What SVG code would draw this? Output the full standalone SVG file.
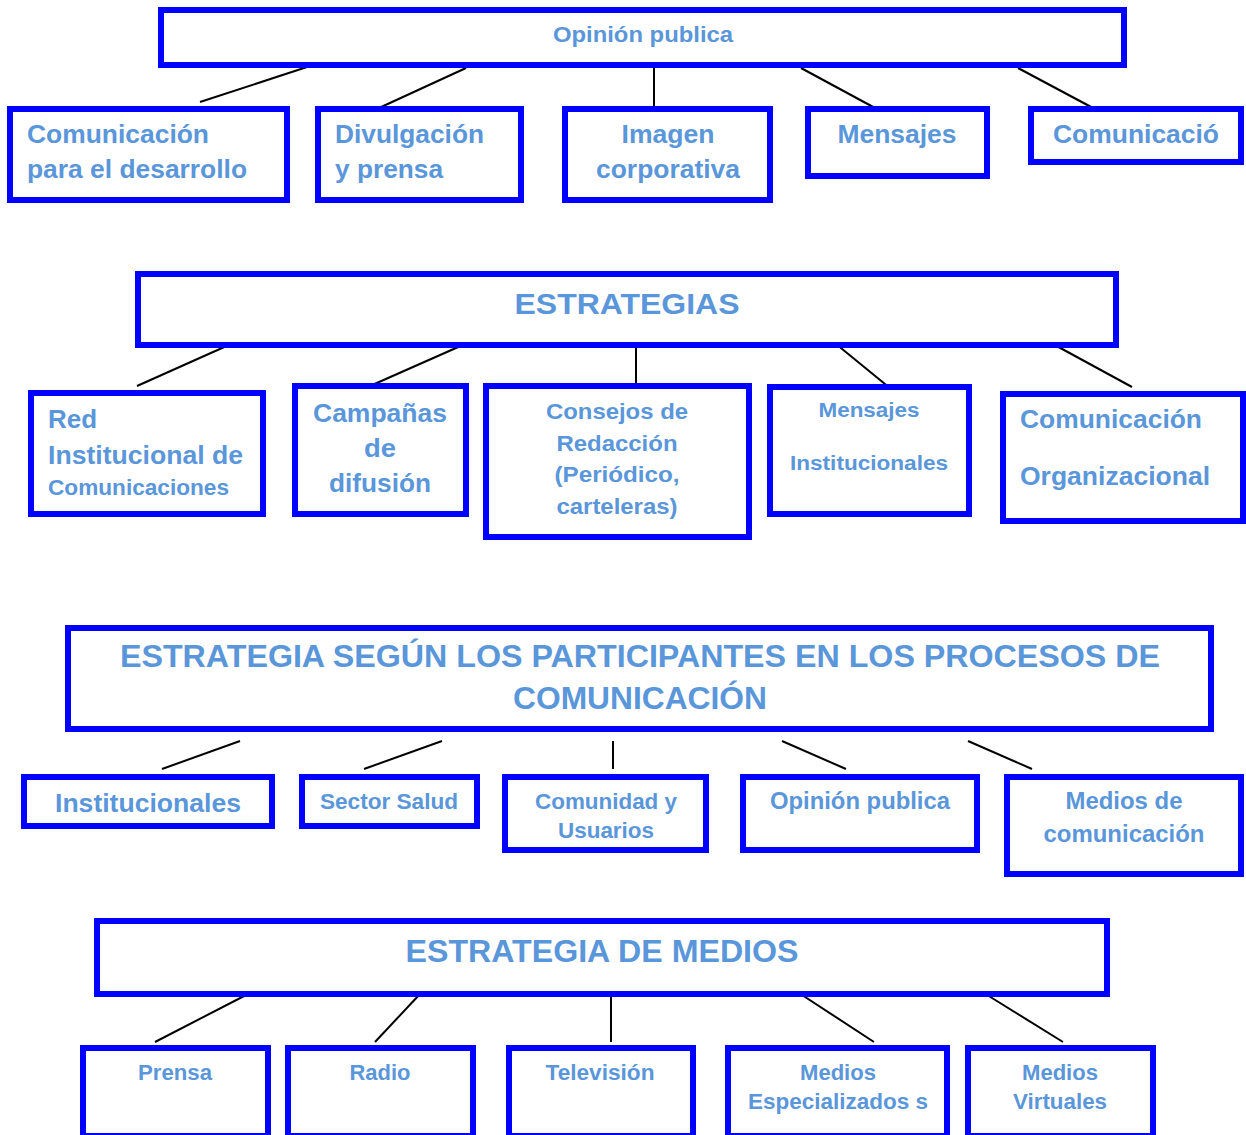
<svg xmlns="http://www.w3.org/2000/svg" width="1246" height="1135" viewBox="0 0 1246 1135">
<style>
.box{fill:#fff;stroke:#0000FF;stroke-width:6}
.t{font-family:"Liberation Sans",Arial,sans-serif;font-weight:bold;fill:#5A96DA}
.m{text-anchor:middle}
.c line{stroke:#000;stroke-width:2}
</style>
<rect width="1246" height="1135" fill="#fff"/>
<g id="connectors" class="c">
<line x1="307" y1="67" x2="200" y2="102"/>
<line x1="466" y1="68" x2="379" y2="108"/>
<line x1="654" y1="68" x2="654" y2="108"/>
<line x1="801" y1="68" x2="875" y2="108"/>
<line x1="1018" y1="68" x2="1093" y2="108"/>
<line x1="231" y1="344" x2="137" y2="386"/>
<line x1="465" y1="344" x2="370" y2="386"/>
<line x1="636" y1="344" x2="636" y2="386"/>
<line x1="836" y1="344" x2="896" y2="393"/>
<line x1="1053" y1="344" x2="1132" y2="387"/>
<line x1="240" y1="741" x2="162" y2="769"/>
<line x1="442" y1="741" x2="364" y2="769"/>
<line x1="613" y1="741" x2="613" y2="769"/>
<line x1="782" y1="741" x2="846" y2="769"/>
<line x1="968" y1="741" x2="1032" y2="769"/>
<line x1="248" y1="994" x2="155" y2="1042"/>
<line x1="420" y1="994" x2="375" y2="1042"/>
<line x1="611" y1="994" x2="611" y2="1042"/>
<line x1="799" y1="993" x2="874" y2="1042"/>
<line x1="984" y1="993" x2="1063" y2="1042"/>
</g>
<g id="opinion-publica-top"><rect class="box" x="161" y="10" width="963" height="55"/><text class="t m" x="643" y="42" font-size="22" textLength="180" lengthAdjust="spacingAndGlyphs">Opinión publica</text></g>
<g id="com-desarrollo"><rect class="box" x="10" y="109" width="277" height="91"/><text class="t" x="27" y="143" font-size="26" textLength="182" lengthAdjust="spacingAndGlyphs">Comunicación</text><text class="t" x="27" y="178" font-size="26" textLength="220" lengthAdjust="spacingAndGlyphs">para el desarrollo</text></g>
<g id="divulgacion"><rect class="box" x="318" y="109" width="203" height="91"/><text class="t" x="335" y="143" font-size="26" textLength="149" lengthAdjust="spacingAndGlyphs">Divulgación</text><text class="t" x="335" y="178" font-size="26" textLength="108" lengthAdjust="spacingAndGlyphs">y prensa</text></g>
<g id="imagen"><rect class="box" x="565" y="109" width="205" height="91"/><text class="t m" x="668" y="143" font-size="26" textLength="93" lengthAdjust="spacingAndGlyphs">Imagen</text><text class="t m" x="668" y="178" font-size="26" textLength="144" lengthAdjust="spacingAndGlyphs">corporativa</text></g>
<g id="mensajes1"><rect class="box" x="808" y="109" width="179" height="67"/><text class="t m" x="897" y="143" font-size="26" textLength="119" lengthAdjust="spacingAndGlyphs">Mensajes</text></g>
<g id="comunicacio"><rect class="box" x="1031" y="109" width="210" height="53"/><text class="t m" x="1136" y="143" font-size="26" textLength="166" lengthAdjust="spacingAndGlyphs">Comunicació</text></g>

<g id="estrategias"><rect class="box" x="138" y="274" width="978" height="71"/><text class="t m" x="627" y="314" font-size="30" textLength="225" lengthAdjust="spacingAndGlyphs">ESTRATEGIAS</text></g>
<g id="red-institucional"><rect class="box" x="31" y="393" width="232" height="121"/><text class="t" x="48" y="428" font-size="25" textLength="49" lengthAdjust="spacingAndGlyphs">Red</text><text class="t" x="48" y="464" font-size="25" textLength="195" lengthAdjust="spacingAndGlyphs">Institucional de</text><text class="t" x="48" y="495" font-size="22" textLength="181" lengthAdjust="spacingAndGlyphs">Comunicaciones</text></g>
<g id="campanas"><rect class="box" x="295" y="386" width="171" height="128"/><text class="t m" x="380" y="422" font-size="25" textLength="134" lengthAdjust="spacingAndGlyphs">Campañas</text><text class="t m" x="380" y="457" font-size="25" textLength="32" lengthAdjust="spacingAndGlyphs">de</text><text class="t m" x="380" y="492" font-size="25" textLength="102" lengthAdjust="spacingAndGlyphs">difusión</text></g>
<g id="consejos"><rect class="box" x="486" y="386" width="263" height="151"/><text class="t m" x="617" y="419" font-size="22" textLength="142" lengthAdjust="spacingAndGlyphs">Consejos de</text><text class="t m" x="617" y="451" font-size="22" textLength="121" lengthAdjust="spacingAndGlyphs">Redacción</text><text class="t m" x="617" y="482" font-size="22" textLength="125" lengthAdjust="spacingAndGlyphs">(Periódico,</text><text class="t m" x="617" y="514" font-size="22" textLength="121" lengthAdjust="spacingAndGlyphs">carteleras)</text></g>
<g id="mensajes-inst"><rect class="box" x="770" y="387" width="199" height="127"/><text class="t m" x="869" y="417" font-size="20" textLength="101" lengthAdjust="spacingAndGlyphs">Mensajes</text><text class="t m" x="869" y="470" font-size="20" textLength="158" lengthAdjust="spacingAndGlyphs">Institucionales</text></g>
<g id="com-organizacional"><rect class="box" x="1003" y="394" width="240" height="127"/><text class="t" x="1020" y="428" font-size="26" textLength="182" lengthAdjust="spacingAndGlyphs">Comunicación</text><text class="t" x="1020" y="485" font-size="26" textLength="190" lengthAdjust="spacingAndGlyphs">Organizacional</text></g>

<g id="estrategia-participantes"><rect class="box" x="68" y="628" width="1143" height="101"/><text class="t m" x="640" y="667" font-size="31" textLength="1040" lengthAdjust="spacingAndGlyphs">ESTRATEGIA SEGÚN LOS PARTICIPANTES EN LOS PROCESOS DE</text><text class="t m" x="640" y="709" font-size="31" textLength="254" lengthAdjust="spacingAndGlyphs">COMUNICACIÓN</text></g>
<g id="institucionales"><rect class="box" x="24" y="777" width="248" height="49"/><text class="t m" x="148" y="812" font-size="25" textLength="186" lengthAdjust="spacingAndGlyphs">Institucionales</text></g>
<g id="sector-salud"><rect class="box" x="302" y="777" width="175" height="49"/><text class="t m" x="389" y="809" font-size="22" textLength="138" lengthAdjust="spacingAndGlyphs">Sector Salud</text></g>
<g id="comunidad"><rect class="box" x="505" y="777" width="201" height="73"/><text class="t m" x="606" y="809" font-size="22" textLength="142" lengthAdjust="spacingAndGlyphs">Comunidad y</text><text class="t m" x="606" y="838" font-size="22" textLength="96" lengthAdjust="spacingAndGlyphs">Usuarios</text></g>
<g id="opinion-publica-2"><rect class="box" x="743" y="777" width="234" height="73"/><text class="t m" x="860" y="809" font-size="23" textLength="180" lengthAdjust="spacingAndGlyphs">Opinión publica</text></g>
<g id="medios-comunicacion"><rect class="box" x="1007" y="777" width="234" height="97"/><text class="t m" x="1124" y="809" font-size="23" textLength="117" lengthAdjust="spacingAndGlyphs">Medios de</text><text class="t m" x="1124" y="842" font-size="23" textLength="161" lengthAdjust="spacingAndGlyphs">comunicación</text></g>

<g id="estrategia-medios"><rect class="box" x="97" y="921" width="1010" height="73"/><text class="t m" x="602" y="962" font-size="31" textLength="393" lengthAdjust="spacingAndGlyphs">ESTRATEGIA DE MEDIOS</text></g>
<g id="prensa"><rect class="box" x="83" y="1048" width="185" height="88"/><text class="t m" x="175" y="1080" font-size="22" textLength="74" lengthAdjust="spacingAndGlyphs">Prensa</text></g>
<g id="radio"><rect class="box" x="288" y="1048" width="185" height="88"/><text class="t m" x="380" y="1080" font-size="22" textLength="61" lengthAdjust="spacingAndGlyphs">Radio</text></g>
<g id="television"><rect class="box" x="509" y="1048" width="184" height="88"/><text class="t m" x="600" y="1080" font-size="22" textLength="109" lengthAdjust="spacingAndGlyphs">Televisión</text></g>
<g id="medios-especializados"><rect class="box" x="728" y="1048" width="219" height="88"/><text class="t m" x="838" y="1080" font-size="22" textLength="76" lengthAdjust="spacingAndGlyphs">Medios</text><text class="t m" x="838" y="1109" font-size="22" textLength="180" lengthAdjust="spacingAndGlyphs">Especializados s</text></g>
<g id="medios-virtuales"><rect class="box" x="968" y="1048" width="185" height="88"/><text class="t m" x="1060" y="1080" font-size="22" textLength="76" lengthAdjust="spacingAndGlyphs">Medios</text><text class="t m" x="1060" y="1109" font-size="22" textLength="94" lengthAdjust="spacingAndGlyphs">Virtuales</text></g>
</svg>
